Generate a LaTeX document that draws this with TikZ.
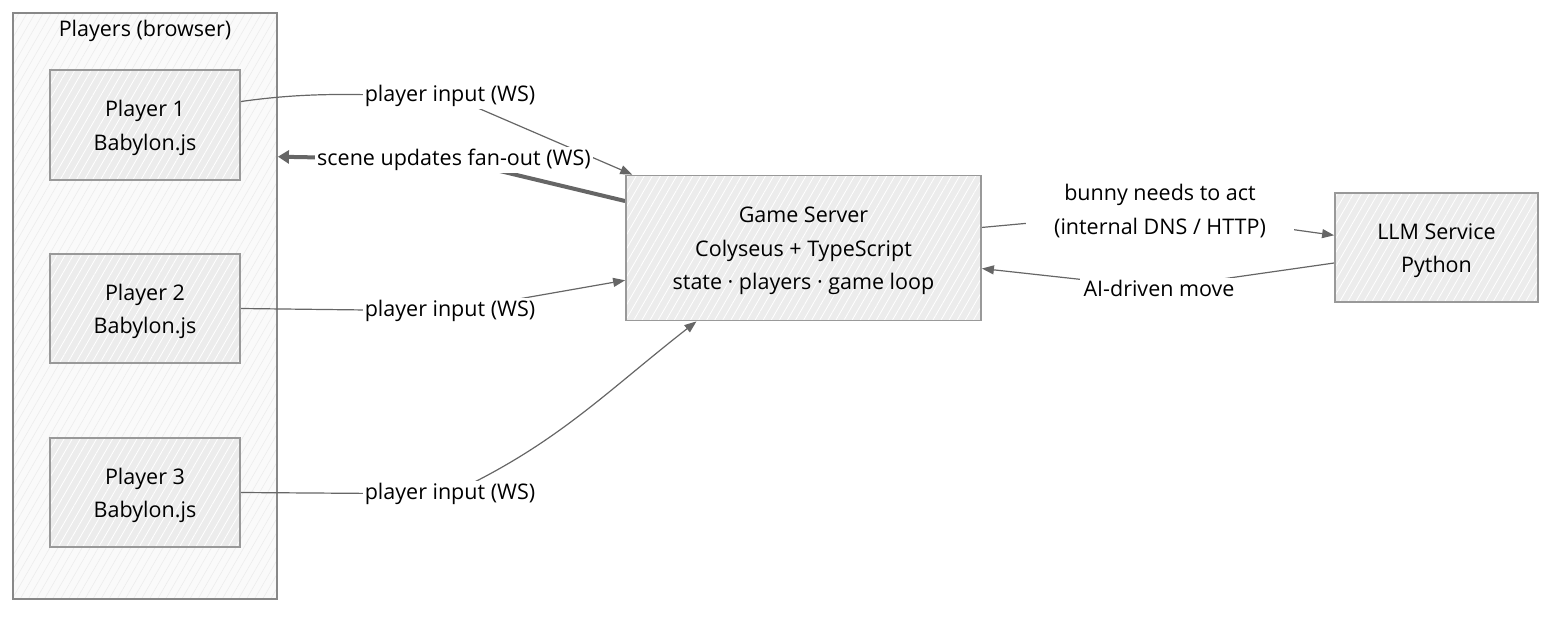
\documentclass[tikz,border=0pt]{standalone}
\usepackage{fontspec}
\setmainfont{Open Sans}
\usetikzlibrary{arrows.meta,patterns.meta,calc}
\definecolor{boxfill}{HTML}{ECECEC}
\definecolor{boxline}{HTML}{999999}
\definecolor{grpline}{HTML}{888888}
\definecolor{edgecol}{HTML}{666666}
\definecolor{grpfill}{HTML}{FAFAFA}
\newcommand\firstup{\rule{0pt}{22pt}}
\pgfdeclarelayer{bg}
\pgfdeclarelayer{edges}
\pgfsetlayers{bg,edges,main}
\begin{document}
\begin{tikzpicture}[x=1pt,y=-1pt,
  txt/.style={font=\fontsize{21.5}{33.5}\selectfont, text=black, align=center},
  box/.style={txt, preaction={fill=boxfill}, pattern={Lines[angle=60,distance=7pt,line width=0.8pt]}, pattern color=white,
    draw=boxline, line width=1.8pt, inner sep=0pt},
  grp/.style={preaction={fill=grpfill}, pattern={Lines[angle=60,distance=7pt,line width=0.6pt]}, pattern color=boxfill,
    draw=grpline, line width=1.8pt, inner sep=0pt},
  lab/.style={txt, fill=white, inner xsep=2pt, inner ysep=2pt},
  edge/.style={draw=edgecol, line width=1.2pt},
  arr/.style={-{Triangle[length=12pt,width=9pt]}},
  thick edge/.style={draw=edgecol, line width=4pt},
  tarr/.style={-{Triangle[length=11pt,width=13pt]}}
]
\useasboundingbox (0,0) rectangle (1568,620);
% group container
\begin{pgfonlayer}{bg}
\node[grp, minimum width=264pt, minimum height=586pt] (grp) at (145,306) {};
\end{pgfonlayer}
\node[txt] (grplab) at (145,31) {Players (browser)};
% boxes
\node[box, minimum width=190pt, minimum height=110pt] (p1) at (145,125) {\firstup Player 1\\Babylon.js};
\node[box, minimum width=190pt, minimum height=109pt] (p2) at (145,308.5) {\firstup Player 2\\Babylon.js};
\node[box, minimum width=190pt, minimum height=109pt] (p3) at (145,492.5) {\firstup Player 3\\Babylon.js};
\node[box, minimum width=355pt, minimum height=145pt] (gs) at (803.5,248) {\firstup Game Server\\Colyseus + TypeScript\\state \textperiodcentered{} players \textperiodcentered{} game loop};
\node[box, minimum width=203pt, minimum height=109pt] (llm) at (1436.5,247.5) {\firstup LLM Service\\Python};
% labels
\node[lab] (l1) at (450,96) {player input (WS)};
\node[lab] (l4) at (454,160) {scene updates fan-out (WS)};
\node[lab] (l2) at (450,311) {player input (WS)};
\node[lab] (l3) at (450,494) {player input (WS)};
\node[lab, inner xsep=28pt, inner ysep=6pt] (l5) at (1160,211) {bunny needs to act\\(internal DNS / HTTP)};
\node[lab, inner xsep=4pt] (l6) at (1159,288) {AI-driven move};
% anchor points
\coordinate (p1e) at ($(p1.north east)!0.29!(p1.south east)$);
\coordinate (gsN1) at ($(gs.north west)!0.02!(gs.north east)$);
\coordinate (gsW1) at ($(gs.north west)!0.18!(gs.south west)$);
\coordinate (gsW2) at ($(gs.north west)!0.72!(gs.south west)$);
\coordinate (gsS3) at ($(gs.south west)!0.2!(gs.south east)$);
\coordinate (gsE1) at ($(gs.north east)!0.36!(gs.south east)$);
\coordinate (gsE2) at ($(gs.north east)!0.64!(gs.south east)$);
\coordinate (llmW1) at ($(llm.north west)!0.39!(llm.south west)$);
\coordinate (llmW2) at ($(llm.north west)!0.64!(llm.south west)$);
\coordinate (grpE) at ($(grp.north east)!0.246!(grp.south east)$);
% edges
\begin{pgfonlayer}{edges}
\draw[edge, arr] (p1e) to[out=8, in=180] (l1.center) -- (gsN1);
\draw[thick edge, tarr] (gsW1) -- (l4.center) -- (grpE);
\draw[edge, arr] (p2.east) -- (l2.center) -- (gsW2);
\draw[edge, arr] (p3.east) -- (l3.center) to[out=25, in=218] (gsS3);
\draw[edge, arr] (gsE1) -- (l5.center) -- (llmW1);
\draw[edge, arr] (llmW2) -- (l6.center) -- (gsE2);
\end{pgfonlayer}
\end{tikzpicture}
\end{document}
